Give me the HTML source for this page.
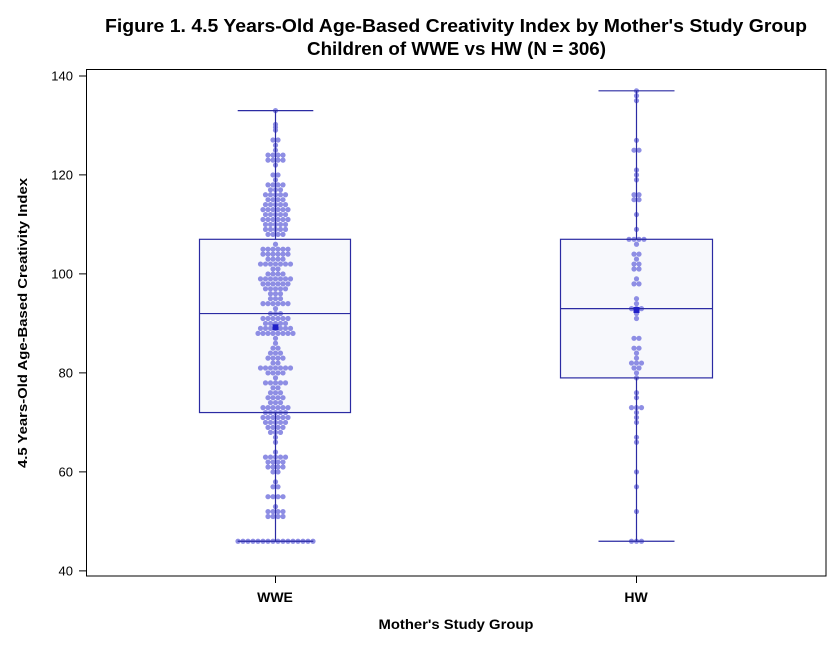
<!DOCTYPE html>
<html>
<head>
<meta charset="utf-8">
<style>
html,body{margin:0;padding:0;background:#fff;}
svg{display:block;}
text{font-family:"Liberation Sans",Arial,sans-serif;fill:#000;}
</style>
</head>
<body>
<svg id="chart" width="840" height="648" viewBox="0 0 840 648" xmlns="http://www.w3.org/2000/svg">
<rect x="0" y="0" width="840" height="648" fill="#fff"/>
<text x="456" y="32" font-size="18" font-weight="bold" text-anchor="middle" textLength="702" lengthAdjust="spacingAndGlyphs">Figure 1. 4.5 Years-Old Age-Based Creativity Index by Mother's Study Group</text>
<text x="456.5" y="55" font-size="18" font-weight="bold" text-anchor="middle" textLength="299" lengthAdjust="spacingAndGlyphs">Children of WWE vs HW (N = 306)</text>
<rect x="199.5" y="239.3" width="151" height="173.25" fill="#f7f8fc"/>
<rect x="560.5" y="239.3" width="152" height="138.6" fill="#f7f8fc"/>
<g id="dots" fill="#8e8ee4"></g>
<g stroke="#2b2ba3" stroke-width="1.2" fill="none">
<rect x="199.5" y="239.3" width="151" height="173.25"/>
<path d="M199.5 313.55H350.5M275.5 110.6V239.3M275.5 412.55V541.25M237.7 110.6H313.3M237.7 541.25H313.3"/>
<rect x="560.5" y="239.3" width="152" height="138.6"/>
<path d="M560.5 308.6H712.5M636.5 90.8V239.3M636.5 377.9V541.25M598.5 90.8H674.5M598.5 541.25H674.5"/>
</g>
<rect x="272.5" y="324.3" width="6" height="6" fill="#2020c8"/>
<rect x="633.5" y="307" width="6" height="6" fill="#2020c8"/>
<rect x="86.5" y="69.5" width="739.5" height="506.5" fill="none" stroke="#000" stroke-width="1"/>
<path stroke="#000" stroke-width="1" d="M79 76H86M79 174.9H86M79 273.9H86M79 372.9H86M79 471.9H86M79 570.9H86M275.5 576V583M636.5 576V583"/>
<g font-size="13" text-anchor="end">
<text x="73" y="80.5">140</text>
<text x="73" y="179.4">120</text>
<text x="73" y="278.4">100</text>
<text x="73" y="377.4">80</text>
<text x="73" y="476.4">60</text>
<text x="73" y="575.4">40</text>
</g>
<text x="275" y="602" font-size="14" font-weight="bold" text-anchor="middle">WWE</text>
<text x="636" y="602" font-size="14" font-weight="bold" text-anchor="middle">HW</text>
<text x="456" y="629" font-size="14" font-weight="bold" text-anchor="middle" textLength="155" lengthAdjust="spacingAndGlyphs">Mother's Study Group</text>
<text transform="translate(27,323) rotate(-90)" x="0" y="0" font-size="13" font-weight="bold" text-anchor="middle" textLength="290" lengthAdjust="spacingAndGlyphs">4.5 Years-Old Age-Based Creativity Index</text>
</svg>
<script>
(function(){
var W="110.6:1,124.5:1,127.3:1,130.2:1,140:2,145.25:1,150.2:1,155.15:4,160.1:4,165.05:1,174.95:2,179.9:1,184.85:4,189.8:3,194.75:5,199.7:4,204.65:5,209.6:6,214.55:5,219.5:6,224.45:5,229.4:5,234.35:4,244.25:1,249.2:6,254.15:6,259.1:4,264.05:7,269:2,273.95:4,278.9:7,283.85:6,288.8:5,293.75:3,298.7:3,303.65:6,308.6:1,313.55:3,318.5:6,323.45:5,328.4:7,333.35:8,338.3:1,343.25:1,348.2:2,353.15:3,358.1:4,363.05:2,368:7,372.95:4,377.9:1,382.85:5,387.8:2,392.75:3,397.7:4,402.65:3,407.6:6,412.55:5,417.5:6,422.45:5,427.4:4,432.35:3,437.3:1,442.25:1,452.15:1,457.1:5,462.05:4,467:4,471.95:2,481.85:1,486.8:2,496.7:4,506.6:1,511.55:4,516.5:4,541.25:16";
var H="90.8:1,95.75:1,100.7:1,140.3:1,150.2:2,170:1,174.95:1,179.9:1,194.75:2,199.7:2,214.55:1,229.4:1,239.3:4,244.25:1,254.15:2,259.1:1,264.05:2,269:2,278.9:1,283.85:2,298.7:1,303.65:1,308.6:3,313.55:1,318.5:1,338.3:2,348.2:2,353.15:1,358.1:1,363.05:3,368:2,372.95:1,377.9:1,392.75:1,397.7:1,407.6:3,412.55:1,417.5:1,422.45:1,437.3:1,442.25:1,471.95:1,486.8:1,511.55:1,541.25:3";
var g=document.getElementById("dots"),ns="http://www.w3.org/2000/svg";
function draw(s,cx){
s.split(",").forEach(function(r){
var p=r.split(":"),y=+p[0],n=+p[1];
for(var i=0;i<n;i++){
var c=document.createElementNS(ns,"circle");
c.setAttribute("cx",cx+(i-(n-1)/2)*5);
c.setAttribute("cy",y);
c.setAttribute("r",2.6);
g.appendChild(c);
}
});
}
draw(W,275.5);
draw(H,636.5);
})();
</script>
</body>
</html>
